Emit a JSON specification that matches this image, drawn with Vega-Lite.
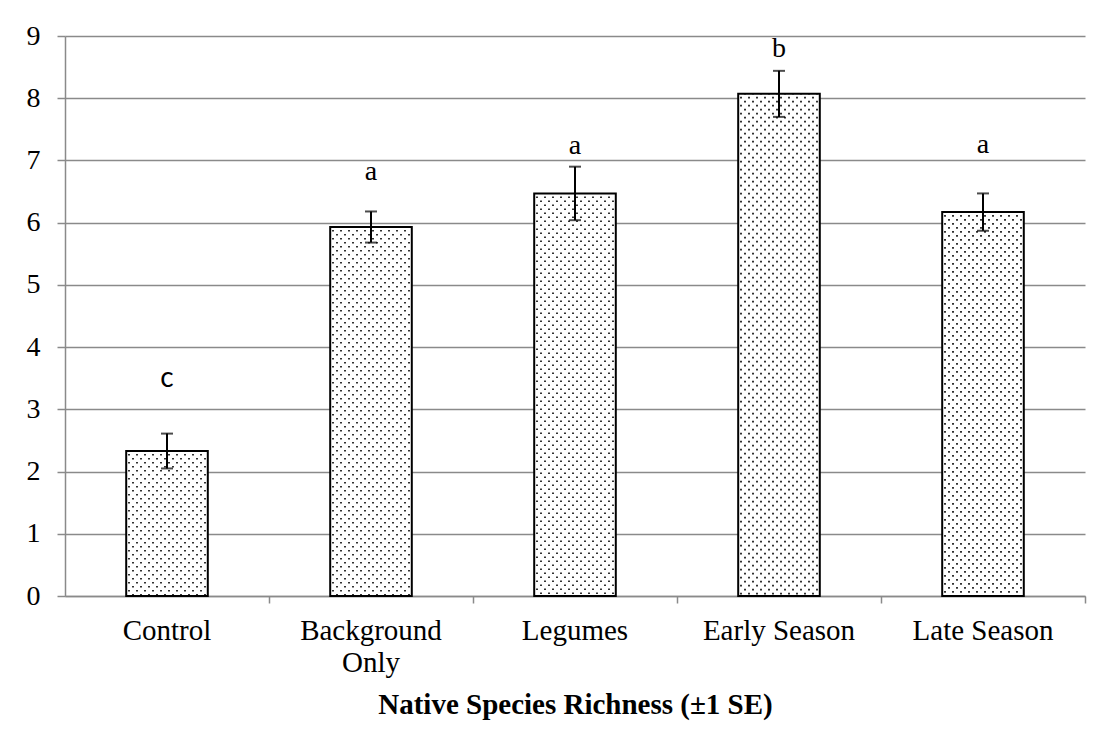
{
  "$schema": "https://vega.github.io/schema/vega-lite/v6.json",
  "width": 1020,
  "height": 560,
  "autosize": {"type": "none"},
  "padding": {"left": 65, "top": 36, "right": 22, "bottom": 156},
  "background": "white",
  "config": {"view": {"stroke": null}, "font": "Liberation Serif"},
  "data": {
    "values": [
      {"treatment": "Control", "mean": 2.33, "se": 0.28, "letter": "c", "letterY": 3.36},
      {"treatment": "Background Only", "mean": 5.93, "se": 0.25, "letter": "a", "letterY": 6.69},
      {"treatment": "Legumes", "mean": 6.47, "se": 0.43, "letter": "a", "letterY": 7.1},
      {"treatment": "Early Season", "mean": 8.07, "se": 0.37, "letter": "b", "letterY": 8.66},
      {"treatment": "Late Season", "mean": 6.17, "se": 0.3, "letter": "a", "letterY": 7.12}
    ]
  },
  "encoding": {
    "x": {
      "field": "treatment",
      "type": "nominal",
      "sort": null,
      "scale": {"paddingInner": 0.6, "paddingOuter": 0.3},
      "title": "Native Species Richness (±1 SE)",
      "axis": {
        "labelAngle": 0,
        "labelFont": "Liberation Serif",
        "labelFontSize": 29,
        "labelColor": "black",
        "labelPadding": 13,
        "labelLineHeight": 32,
        "labelLimit": 0,
        "labelExpr": "datum.label == 'Background Only' ? ['Background', 'Only'] : datum.label",
        "domainColor": "#8a8a8a",
        "domainWidth": 1.5,
        "tickColor": "#8a8a8a",
        "tickWidth": 1.5,
        "tickSize": 7,
        "bandPosition": 1.75,
        "titleFont": "Liberation Serif",
        "titleFontSize": 29,
        "titleFontWeight": "bold",
        "titleColor": "black",
        "titlePadding": 13
      }
    }
  },
  "layer": [
    {
      "mark": {"type": "bar", "fill": "white", "stroke": "black", "strokeWidth": 2},
      "encoding": {
        "y": {
          "field": "mean",
          "type": "quantitative",
          "title": null,
          "scale": {"domain": [0, 9], "nice": false},
          "axis": {
            "values": [0, 1, 2, 3, 4, 5, 6, 7, 8, 9],
            "format": "d",
            "grid": true,
            "gridColor": "#8a8a8a",
            "gridWidth": 1.5,
            "domainColor": "#8a8a8a",
            "domainWidth": 1.5,
            "tickColor": "#8a8a8a",
            "tickWidth": 1.5,
            "tickSize": 8,
            "labelFont": "Liberation Serif",
            "labelFontSize": 28,
            "labelColor": "black",
            "labelPadding": 17
          }
        }
      }
    },
    {
      "encoding": {
        "y": {"field": "mean", "type": "quantitative", "title": null},
        "y2": {"datum": 0}
      },
      "layer": [
        {"mark": {"type": "rule", "xOffset": -38, "strokeDash": [1.6, 6.4], "strokeDashOffset": 5, "strokeWidth": 1.6, "color": "black"}},
        {"mark": {"type": "rule", "xOffset": -34, "strokeDash": [1.6, 6.4], "strokeDashOffset": 1, "strokeWidth": 1.6, "color": "black"}},
        {"mark": {"type": "rule", "xOffset": -30, "strokeDash": [1.6, 6.4], "strokeDashOffset": 5, "strokeWidth": 1.6, "color": "black"}},
        {"mark": {"type": "rule", "xOffset": -26, "strokeDash": [1.6, 6.4], "strokeDashOffset": 1, "strokeWidth": 1.6, "color": "black"}},
        {"mark": {"type": "rule", "xOffset": -22, "strokeDash": [1.6, 6.4], "strokeDashOffset": 5, "strokeWidth": 1.6, "color": "black"}},
        {"mark": {"type": "rule", "xOffset": -18, "strokeDash": [1.6, 6.4], "strokeDashOffset": 1, "strokeWidth": 1.6, "color": "black"}},
        {"mark": {"type": "rule", "xOffset": -14, "strokeDash": [1.6, 6.4], "strokeDashOffset": 5, "strokeWidth": 1.6, "color": "black"}},
        {"mark": {"type": "rule", "xOffset": -10, "strokeDash": [1.6, 6.4], "strokeDashOffset": 1, "strokeWidth": 1.6, "color": "black"}},
        {"mark": {"type": "rule", "xOffset": -6, "strokeDash": [1.6, 6.4], "strokeDashOffset": 5, "strokeWidth": 1.6, "color": "black"}},
        {"mark": {"type": "rule", "xOffset": -2, "strokeDash": [1.6, 6.4], "strokeDashOffset": 1, "strokeWidth": 1.6, "color": "black"}},
        {"mark": {"type": "rule", "xOffset": 2, "strokeDash": [1.6, 6.4], "strokeDashOffset": 5, "strokeWidth": 1.6, "color": "black"}},
        {"mark": {"type": "rule", "xOffset": 6, "strokeDash": [1.6, 6.4], "strokeDashOffset": 1, "strokeWidth": 1.6, "color": "black"}},
        {"mark": {"type": "rule", "xOffset": 10, "strokeDash": [1.6, 6.4], "strokeDashOffset": 5, "strokeWidth": 1.6, "color": "black"}},
        {"mark": {"type": "rule", "xOffset": 14, "strokeDash": [1.6, 6.4], "strokeDashOffset": 1, "strokeWidth": 1.6, "color": "black"}},
        {"mark": {"type": "rule", "xOffset": 18, "strokeDash": [1.6, 6.4], "strokeDashOffset": 5, "strokeWidth": 1.6, "color": "black"}},
        {"mark": {"type": "rule", "xOffset": 22, "strokeDash": [1.6, 6.4], "strokeDashOffset": 1, "strokeWidth": 1.6, "color": "black"}},
        {"mark": {"type": "rule", "xOffset": 26, "strokeDash": [1.6, 6.4], "strokeDashOffset": 5, "strokeWidth": 1.6, "color": "black"}},
        {"mark": {"type": "rule", "xOffset": 30, "strokeDash": [1.6, 6.4], "strokeDashOffset": 1, "strokeWidth": 1.6, "color": "black"}},
        {"mark": {"type": "rule", "xOffset": 34, "strokeDash": [1.6, 6.4], "strokeDashOffset": 5, "strokeWidth": 1.6, "color": "black"}},
        {"mark": {"type": "rule", "xOffset": 38, "strokeDash": [1.6, 6.4], "strokeDashOffset": 1, "strokeWidth": 1.6, "color": "black"}}
      ]
    },
    {
      "mark": {
        "type": "errorbar",
        "rule": {"strokeWidth": 2, "color": "black"},
        "ticks": {"size": 12, "thickness": 2, "color": "black"}
      },
      "encoding": {
        "y": {"field": "mean", "type": "quantitative", "title": null},
        "yError": {"field": "se"}
      }
    },
    {
      "transform": [{"filter": "datum.letter !== 'c'"}],
      "mark": {"type": "text", "font": "Liberation Serif", "fontSize": 28, "color": "black", "baseline": "alphabetic"},
      "encoding": {
        "y": {"field": "letterY", "type": "quantitative", "title": null},
        "text": {"field": "letter"}
      }
    },
    {
      "transform": [{"filter": "datum.letter === 'c'"}],
      "mark": {"type": "text", "font": "Lato", "fontSize": 28, "color": "black", "baseline": "alphabetic"},
      "encoding": {
        "y": {"field": "letterY", "type": "quantitative", "title": null},
        "text": {"field": "letter"}
      }
    }
  ]
}
